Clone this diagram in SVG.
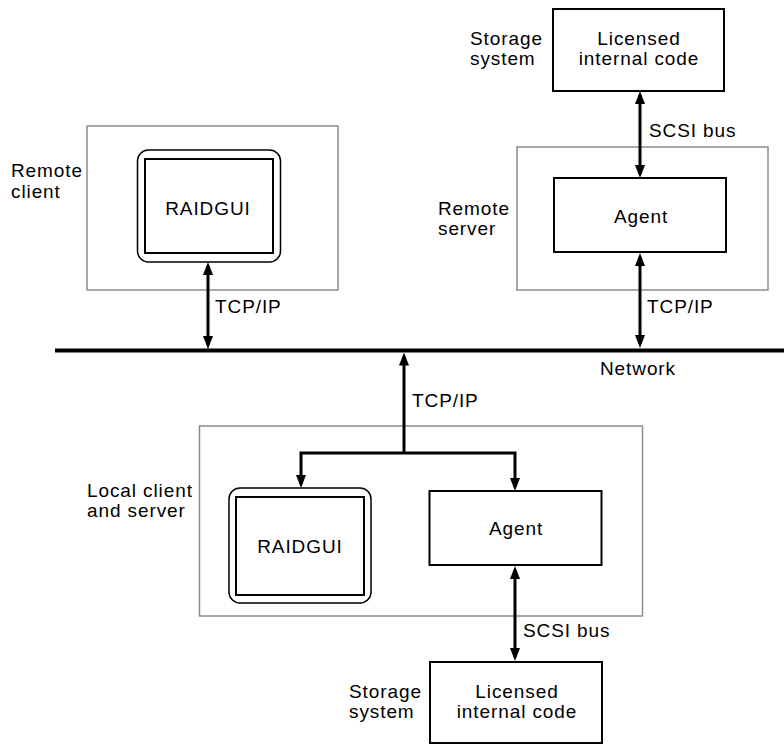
<svg xmlns="http://www.w3.org/2000/svg" width="784" height="744" viewBox="0 0 784 744">
<style>
text{font-family:"Liberation Sans",Arial,sans-serif;font-size:19px;letter-spacing:0.9px;fill:#000}
.c{text-anchor:middle}
.grp{fill:none;stroke:#8c8c8c;stroke-width:1.5}
.box{fill:#fff;stroke:#000;stroke-width:2}
.outer{fill:#fff;stroke:#000;stroke-width:1.5}
.conn{fill:none;stroke:#000;stroke-width:3}
</style>
<defs>
<marker id="ah" markerUnits="userSpaceOnUse" markerWidth="13" markerHeight="10" refX="9" refY="5" orient="auto-start-reverse">
<path d="M0,0 L13,5 L0,10 z" fill="#000"/>
</marker>
</defs>
<rect x="0" y="0" width="784" height="744" fill="#fff"/>

<g id="remote-client">
<rect class="grp" x="87" y="126" width="251" height="164"/>
<text x="11" y="177">Remote</text>
<text x="11" y="198">client</text>
</g>
<g id="raidgui-remote">
<rect class="outer" x="137.5" y="150" width="143" height="112" rx="11"/>
<rect class="box" x="145" y="159" width="128" height="94"/>
<text class="c" x="208" y="215">RAIDGUI</text>
</g>

<g id="storage-top">
<rect class="box" x="553" y="9" width="171" height="82"/>
<text x="470" y="45">Storage</text>
<text x="470" y="65">system</text>
<text class="c" x="639" y="45">Licensed</text>
<text class="c" x="639" y="65">internal code</text>
</g>

<g id="remote-server">
<rect class="grp" x="517" y="147" width="251" height="143"/>
<text x="438" y="215">Remote</text>
<text x="438" y="235">server</text>
</g>
<g id="agent-remote">
<rect class="box" x="554" y="178" width="172" height="74"/>
<text class="c" x="641" y="223">Agent</text>
</g>

<g id="network">
<rect x="55" y="348.5" width="729" height="4" fill="#000"/>
<text x="600" y="375">Network</text>
</g>

<g id="local">
<rect class="grp" x="199.5" y="426" width="443" height="190"/>
<text x="87" y="497">Local client</text>
<text x="87" y="517">and server</text>
</g>
<g id="raidgui-local">
<rect class="outer" x="229" y="488" width="142" height="115" rx="11"/>
<rect class="box" x="236" y="497" width="128" height="98"/>
<text class="c" x="300" y="553">RAIDGUI</text>
</g>
<g id="agent-local">
<rect class="box" x="429.5" y="491" width="172" height="74"/>
<text class="c" x="516" y="535">Agent</text>
</g>

<g id="storage-bottom">
<rect class="box" x="430" y="662" width="172" height="81"/>
<text x="349" y="698">Storage</text>
<text x="349" y="718">system</text>
<text class="c" x="517" y="698">Licensed</text>
<text class="c" x="517" y="718">internal code</text>
</g>

<g id="connectors">
<path class="conn" d="M208,266 V345" marker-start="url(#ah)" marker-end="url(#ah)"/>
<text x="215" y="313">TCP/IP</text>
<path class="conn" d="M640,95 V174" marker-start="url(#ah)" marker-end="url(#ah)"/>
<text x="649" y="137">SCSI bus</text>
<path class="conn" d="M640,257 V344" marker-start="url(#ah)" marker-end="url(#ah)"/>
<text x="647" y="313">TCP/IP</text>
<path class="conn" d="M404,453 V356.5" marker-end="url(#ah)"/>
<text x="412" y="407">TCP/IP</text>
<path class="conn" d="M301,484 V453 H515 V487" marker-start="url(#ah)" marker-end="url(#ah)"/>
<path class="conn" d="M515,570 V657" marker-start="url(#ah)" marker-end="url(#ah)"/>
<text x="523" y="637">SCSI bus</text>
</g>
</svg>
